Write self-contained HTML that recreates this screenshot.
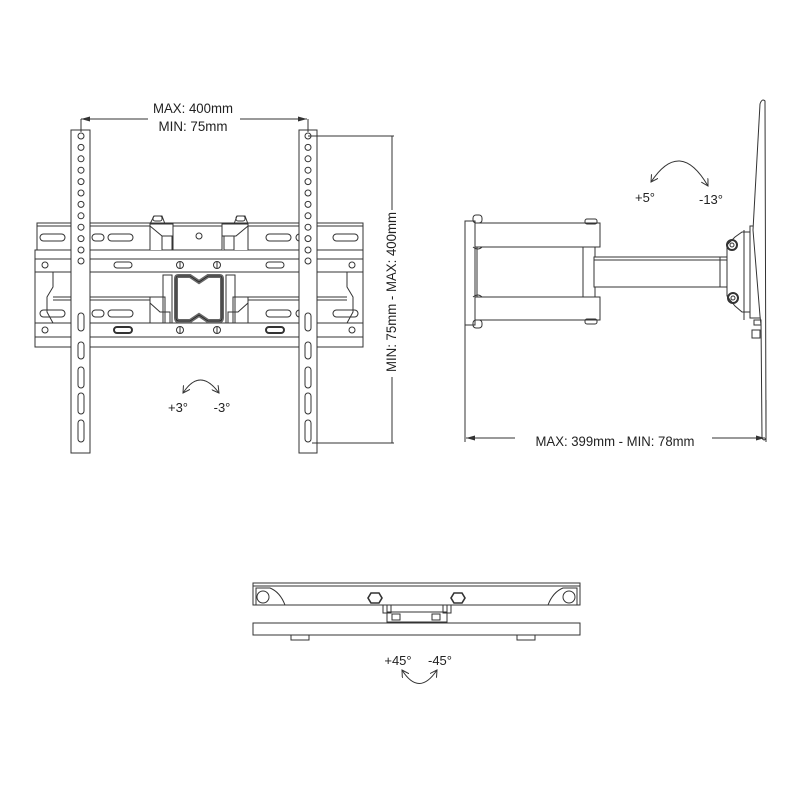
<!DOCTYPE html>
<html><head><meta charset="utf-8"><style>
html,body{margin:0;padding:0;background:#fff;}
svg{display:block;}
text{font-family:"Liberation Sans",sans-serif;fill:#222;}
</style></head><body>
<svg width="800" height="800" viewBox="0 0 800 800" xmlns="http://www.w3.org/2000/svg">
<defs>
<marker id="ah" markerWidth="8" markerHeight="8" refX="7" refY="4" orient="auto-start-reverse" markerUnits="userSpaceOnUse">
<path d="M0,0 L7,4 L0,8" fill="none" stroke="#333" stroke-width="1"/></marker>
<marker id="dh" markerWidth="10" markerHeight="6" refX="9" refY="3" orient="auto-start-reverse" markerUnits="userSpaceOnUse">
<path d="M0,0.5 L9,3 L0,5.5 Z" fill="#333"/></marker>
</defs>
<g fill="none" stroke="#333" stroke-width="1">
<!-- FRONT VIEW -->
<rect x="37" y="223" width="326" height="27" fill="#fff"/>
<line x1="37" y1="226" x2="363" y2="226"/>
<rect x="35" y="250" width="328" height="97" fill="#fff"/>
<line x1="35" y1="259" x2="363" y2="259"/>
<line x1="35" y1="272" x2="363" y2="272"/>
<line x1="35" y1="323" x2="363" y2="323"/>
<line x1="35" y1="337" x2="363" y2="337"/>
<path d="M53,272 L53,287 L47,297 L47,312 L53,323"/>
<line x1="53" y1="297" x2="150" y2="297"/>
<line x1="53" y1="300" x2="150" y2="300"/>
<path d="M347,272 L347,287 L353,297 L353,312 L347,323"/>
<line x1="248" y1="297" x2="347" y2="297"/>
<line x1="248" y1="300" x2="347" y2="300"/>
<g>
<rect x="40" y="234" width="25" height="7" rx="3.5"/><rect x="92" y="234" width="12" height="7" rx="3.5"/><rect x="108" y="234" width="25" height="7" rx="3.5"/>
<rect x="266" y="234" width="25" height="7" rx="3.5"/><rect x="296" y="234" width="12" height="7" rx="3.5"/><rect x="333" y="234" width="25" height="7" rx="3.5"/>
<rect x="40" y="310" width="25" height="7" rx="3.5"/><rect x="92" y="310" width="12" height="7" rx="3.5"/><rect x="108" y="310" width="25" height="7" rx="3.5"/>
<rect x="266" y="310" width="25" height="7" rx="3.5"/><rect x="296" y="310" width="12" height="7" rx="3.5"/><rect x="333" y="310" width="25" height="7" rx="3.5"/>
<rect x="114" y="262" width="18" height="6" rx="3"/><rect x="266" y="262" width="18" height="6" rx="3"/>
<rect x="114" y="327" width="18" height="6" rx="3" stroke-width="2"/><rect x="266" y="327" width="18" height="6" rx="3" stroke-width="2"/>
<circle cx="45" cy="265" r="3"/><circle cx="352" cy="265" r="3"/><circle cx="45" cy="330" r="3"/><circle cx="352" cy="330" r="3"/>
<circle cx="199" cy="236" r="3"/>
<circle cx="180" cy="265" r="3.5"/><line x1="180" y1="261.5" x2="180" y2="268.5"/>
<circle cx="217" cy="265" r="3.5"/><line x1="217" y1="261.5" x2="217" y2="268.5"/>
<circle cx="180" cy="330" r="3.5"/><line x1="180" y1="326.5" x2="180" y2="333.5"/>
<circle cx="217" cy="330" r="3.5"/><line x1="217" y1="326.5" x2="217" y2="333.5"/>
</g>
<path d="M150,250 L150,224 L173,224 L173,250" fill="#fff"/>
<path d="M150,226 L162,236 L173,236"/><rect x="162" y="236" width="10" height="14"/>
<path d="M150,224 L154,216 L162,216 L165,224"/><rect x="153" y="216" width="9" height="5" rx="2"/>
<path d="M222,250 L222,224 L248,224 L248,250" fill="#fff"/>
<path d="M248,226 L236,236 L222,236"/><rect x="224" y="236" width="10" height="14"/>
<path d="M234,224 L237,216 L245,216 L248,224"/><rect x="236" y="216" width="9" height="5" rx="2"/>
<path d="M150,323 L150,297 L165,297 L165,323"/><path d="M150,303 L160,312 L170,312 L170,323"/>
<rect x="163" y="275" width="9" height="48"/>
<path d="M248,323 L248,297 L233,297 L233,323"/><path d="M248,303 L238,312 L228,312 L228,323"/>
<rect x="226" y="275" width="9" height="48"/>
<path d="M178,276 L190,276 L199,282 L208,276 L220,276 Q222,276 222,279 L222,318 Q222,321 219,321 L208,321 L199,315 L190,321 L179,321 Q176,321 176,318 L176,279 Q176,276 178,276 Z" stroke="#666" stroke-width="4"/>
<path d="M178,276 L190,276 L199,282 L208,276 L220,276 Q222,276 222,279 L222,318 Q222,321 219,321 L208,321 L199,315 L190,321 L179,321 Q176,321 176,318 L176,279 Q176,276 178,276 Z" stroke="#111" stroke-width="0.6"/>
<rect x="71" y="130" width="19" height="323" fill="#fff"/>
<rect x="299" y="130" width="18" height="323" fill="#fff"/>
<g>
<circle cx="81" cy="136" r="3"/><circle cx="81" cy="147.4" r="3"/><circle cx="81" cy="158.8" r="3"/><circle cx="81" cy="170.2" r="3"/><circle cx="81" cy="181.6" r="3"/><circle cx="81" cy="193" r="3"/><circle cx="81" cy="204.4" r="3"/><circle cx="81" cy="215.8" r="3"/><circle cx="81" cy="227.2" r="3"/><circle cx="81" cy="238.6" r="3"/><circle cx="81" cy="250" r="3"/><circle cx="81" cy="261" r="3"/>
<circle cx="308" cy="136" r="3"/><circle cx="308" cy="147.4" r="3"/><circle cx="308" cy="158.8" r="3"/><circle cx="308" cy="170.2" r="3"/><circle cx="308" cy="181.6" r="3"/><circle cx="308" cy="193" r="3"/><circle cx="308" cy="204.4" r="3"/><circle cx="308" cy="215.8" r="3"/><circle cx="308" cy="227.2" r="3"/><circle cx="308" cy="238.6" r="3"/><circle cx="308" cy="250" r="3"/><circle cx="308" cy="261" r="3"/>
<rect x="78" y="313" width="6" height="18" rx="3"/><rect x="78" y="342" width="6" height="17" rx="3"/><rect x="78" y="367" width="6" height="21" rx="3"/><rect x="78" y="393" width="6" height="21" rx="3"/><rect x="78" y="420" width="6" height="22" rx="3"/>
<rect x="305" y="313" width="6" height="18" rx="3"/><rect x="305" y="342" width="6" height="17" rx="3"/><rect x="305" y="367" width="6" height="21" rx="3"/><rect x="305" y="393" width="6" height="21" rx="3"/><rect x="305" y="420" width="6" height="22" rx="3"/>
</g>
<line x1="81" y1="119" x2="148" y2="119" marker-start="url(#dh)"/>
<line x1="240" y1="119" x2="307" y2="119" marker-end="url(#dh)"/>
<line x1="81" y1="119" x2="81" y2="132"/><line x1="308" y1="119" x2="308" y2="132"/>
<line x1="308" y1="136" x2="394" y2="136"/><line x1="312" y1="443" x2="394" y2="443"/>
<line x1="392" y1="136" x2="392" y2="210"/><line x1="392" y1="377" x2="392" y2="443"/>
<path d="M183,393 Q200,367 219,393" marker-start="url(#ah)" marker-end="url(#ah)"/>
<!-- SIDE VIEW -->
<rect x="465" y="221" width="10" height="104" fill="#fff"/>
<rect x="475" y="223" width="125" height="24" fill="#fff"/>
<rect x="475" y="297" width="125" height="23" fill="#fff"/>
<rect x="583" y="247" width="12" height="50"/>
<line x1="477" y1="247" x2="477" y2="297"/>
<rect x="594" y="257" width="133" height="30" fill="#fff"/>
<line x1="594" y1="260" x2="727" y2="260"/>
<rect x="473" y="215" width="9" height="8" rx="3"/><rect x="473" y="320" width="9" height="8" rx="3"/>
<path d="M473,247 Q478,251 482,247"/><path d="M473,297 Q478,293 482,297"/>
<rect x="585" y="219" width="12" height="5" rx="2"/><rect x="585" y="319" width="12" height="5" rx="2"/>
<path d="M727,257 L727,245 L735,237 L742,232 L750,232 L750,312 L742,312 L735,306 L727,296 L727,287"/>
<rect x="720" y="257" width="7" height="30"/>
<circle cx="732" cy="245" r="5" stroke-width="2"/><circle cx="732" cy="245" r="2"/>
<circle cx="733" cy="298" r="5" stroke-width="2"/><circle cx="733" cy="298" r="2"/>
<path d="M744,230 L744,320"/><rect x="750" y="226" width="11" height="92"/>
<path d="M760,104 Q762,98 765,101 L766,438 Q764,442 762,438 L761,320 L754,320 L754,325 L761,325 L760,316 L753,230 Z" fill="#fff"/>
<rect x="752" y="330" width="8" height="8"/>
<line x1="465" y1="325" x2="465" y2="442"/><line x1="766" y1="400" x2="766" y2="442"/>
<line x1="515" y1="438" x2="466" y2="438" marker-end="url(#dh)"/>
<line x1="712" y1="438" x2="765" y2="438" marker-end="url(#dh)"/>
<path d="M651,182 Q680,138 708,186" marker-start="url(#ah)" marker-end="url(#ah)"/>
<!-- BOTTOM VIEW -->
<rect x="253" y="583" width="327" height="22" fill="#fff"/>
<line x1="253" y1="586" x2="580" y2="586"/>
<circle cx="263" cy="597" r="6"/><path d="M256,605 L256,588 L270,588 Q280,592 285,605"/>
<circle cx="569" cy="597" r="6"/><path d="M577,605 L577,588 L563,588 Q553,592 548,605"/>
<polygon points="371,593 379,593 382,598 379,603 371,603 368,598" fill="#fff" stroke-width="1.6"/>
<polygon points="454,593 462,593 465,598 462,603 454,603 451,598" fill="#fff" stroke-width="1.6"/>
<path d="M387,605 L387,622 L447,622 L447,605"/><line x1="387" y1="612" x2="447" y2="612"/>
<rect x="383" y="605" width="8" height="8"/><rect x="443" y="605" width="8" height="8"/>
<rect x="392" y="614" width="8" height="6"/><rect x="432" y="614" width="8" height="6"/>
<rect x="253" y="623" width="327" height="12" fill="#fff"/>
<path d="M291,635 L291,640 L309,640 L309,635"/><path d="M517,635 L517,640 L535,640 L535,635"/>
<path d="M402,670 Q419,697 437,670" marker-start="url(#ah)" marker-end="url(#ah)"/>
</g>
<text x="193" y="113" font-size="13.5" text-anchor="middle" textLength="80" lengthAdjust="spacingAndGlyphs">MAX: 400mm</text>
<text x="193" y="131" font-size="13.5" text-anchor="middle" textLength="69" lengthAdjust="spacingAndGlyphs">MIN: 75mm</text>
<text transform="translate(396,292) rotate(-90)" font-size="13.5" text-anchor="middle" textLength="160" lengthAdjust="spacingAndGlyphs">MIN: 75mm - MAX: 400mm</text>
<text x="178" y="412" font-size="13" text-anchor="middle">+3°</text>
<text x="222" y="412" font-size="13" text-anchor="middle">-3°</text>
<text x="615" y="446" font-size="13.5" text-anchor="middle" textLength="159" lengthAdjust="spacingAndGlyphs">MAX: 399mm - MIN: 78mm</text>
<text x="645" y="202" font-size="13" text-anchor="middle">+5°</text>
<text x="711" y="204" font-size="13" text-anchor="middle">-13°</text>
<text x="398" y="665" font-size="13" text-anchor="middle">+45°</text>
<text x="440" y="665" font-size="13" text-anchor="middle">-45°</text>
</svg>
</body></html>
